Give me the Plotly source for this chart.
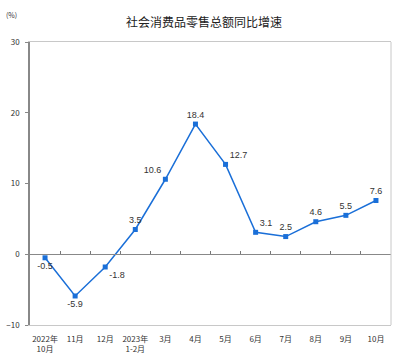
import plotly.graph_objects as go

categories = ["2022年<br>10月", "11月", "12月", "2023年<br>1-2月", "3月", "4月", "5月", "6月", "7月", "8月", "9月", "10月"]
values = [-0.5, -5.9, -1.8, 3.5, 10.6, 18.4, 12.7, 3.1, 2.5, 4.6, 5.5, 7.6]
label_pos = ["bottom center", "bottom center", "bottom right", "top center", "top left", "top center",
             "top right", "top right", "top center", "top center", "top center", "top center"]
y_ticks = [-10, 0, 10, 20, 30]

idx = list(range(len(categories)))
blue = "#1a6fd8"
font = "Noto Sans CJK SC, Noto Sans, sans-serif"

fig = go.Figure()
fig.add_trace(go.Scatter(
    x=idx, y=values, mode="lines+markers+text",
    line=dict(color=blue, width=1.5),
    marker=dict(symbol="square", size=5, color=blue),
    text=[f"{v}" for v in values], textposition=label_pos,
    textfont=dict(size=9, color="#333333", family="Arial, Liberation Sans, sans-serif"),
    cliponaxis=False, showlegend=False, xaxis="x", yaxis="y"))

fig.update_layout(
    width=400, height=358,
    margin=dict(l=30, r=9, t=42, b=33, autoexpand=False),
    paper_bgcolor="white", plot_bgcolor="white",
    font=dict(family=font, size=8, color="#333333"),
    title=dict(text="社会消费品零售总额同比增速", x=0.51, xanchor="center", y=0.935, yanchor="middle",
               font=dict(size=12, color="#222222", family=font)),
    xaxis=dict(range=[-0.5, 11.5], tickvals=idx, ticktext=categories, showgrid=False,
               zeroline=False, showline=True, linecolor="#c8c8c8", mirror=True, ticks="",
               tickfont=dict(size=8), ticklabelstandoff=6, automargin=False, fixedrange=True),
    xaxis2=dict(range=[-0.5, 11.5], overlaying="x", anchor="free", position=0.25,
                tickvals=[i + 0.5 for i in idx[:-1]], ticks="inside", ticklen=3, tickcolor="#777777",
                showticklabels=False, showline=True, linecolor="#888888", linewidth=1,
                showgrid=False, zeroline=False, side="bottom", automargin=False),
    yaxis=dict(range=[-10, 30], tickvals=y_ticks, showgrid=False, zeroline=False,
               showline=True, linecolor="#888888", linewidth=1.5, ticks="outside", ticklen=3,
               tickcolor="#888888", tickfont=dict(size=8), ticklabelstandoff=4,
               automargin=False, fixedrange=True),
    annotations=[dict(text="(%)", xref="paper", yref="paper", x=-0.05, y=1.095, xanchor="center",
                      yanchor="middle", showarrow=False, font=dict(size=7, color="#333333"))],
)
fig.add_trace(go.Scatter(x=[None], y=[None], xaxis="x2", yaxis="y", showlegend=False))
fig.add_shape(type="line", xref="paper", yref="paper", x0=1, x1=1, y0=0, y1=1,
              line=dict(color="#c8c8c8", width=1))

fig.write_html("out.html", config={"displayModeBar": False},
               post_script="document.body.style.margin='0';document.body.style.overflow='hidden';")
